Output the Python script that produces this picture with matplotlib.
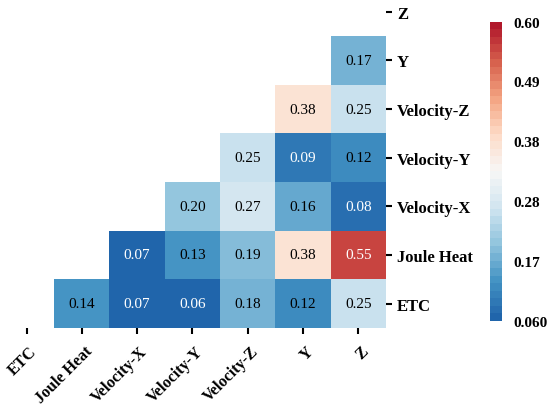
import numpy as np
import pandas as pd
import matplotlib
matplotlib.use("Agg")
import matplotlib.pyplot as plt
import matplotlib.transforms as mtransforms
from matplotlib.colors import LinearSegmentedColormap
import seaborn as sns

plt.rcParams['font.family'] = ['Liberation Serif', 'DejaVu Serif']

cols = ["ETC", "Joule Heat", "Velocity-X", "Velocity-Y", "Velocity-Z", "Y", "Z"]
rows = ["Z", "Y", "Velocity-Z", "Velocity-Y", "Velocity-X", "Joule Heat", "ETC"]

nan = np.nan
row_z = [nan, nan, nan, nan, nan, nan, nan]
row_y = [nan, nan, nan, nan, nan, nan, 0.17]
row_vz = [nan, nan, nan, nan, nan, 0.38, 0.25]
row_vy = [nan, nan, nan, nan, 0.25, 0.09, 0.12]
row_vx = [nan, nan, nan, 0.20, 0.27, 0.16, 0.08]
row_jh = [nan, nan, 0.07, 0.13, 0.19, 0.38, 0.55]
row_etc = [nan, 0.14, 0.07, 0.06, 0.18, 0.12, 0.25]

cbar_ticks = [0.06, 0.168, 0.276, 0.384, 0.492, 0.60]
cbar_labels = ["0.060", "0.17", "0.28", "0.38", "0.49", "0.60"]

df = pd.DataFrame([row_z, row_y, row_vz, row_vy, row_vx, row_jh, row_etc],
                  index=rows, columns=cols)
mask = df.isna()

# 9-class RdBu (without the darkest ends), stepped
base = sns.color_palette("RdBu_r", 9)
cmap = LinearSegmentedColormap.from_list("rdbu9", base, N=40)

fig = plt.figure(figsize=(5.5, 4.06), dpi=100)
ax = fig.add_axes([-0.002, 0.1897, 0.7036, 0.839])
cax = fig.add_axes([0.891, 0.2076, 0.0218, 0.7365])

sns.heatmap(df, mask=mask, cmap=cmap, vmin=0.06, vmax=0.60,
            annot=True, fmt=".2f", annot_kws={"fontsize": 11},
            ax=ax, cbar_ax=cax)

# text colour of the cell values
for t in ax.texts:
    v = float(t.get_text())
    t.set_color('white' if (v < 0.10 or v > 0.5) else 'black')

ax.yaxis.tick_right()
ax.tick_params(axis='both', length=4.5, width=1.5, color='black')
ax.tick_params(axis='x', pad=9)
plt.setp(ax.get_yticklabels(), rotation=0, fontsize=12, fontweight='bold')
offset = mtransforms.ScaledTranslation(8 / 100, -2 / 100, fig.dpi_scale_trans)
for lab in ax.get_xticklabels():
    lab.set_rotation(45)
    lab.set_ha('right')
    lab.set_va('center')
    lab.set_rotation_mode('anchor')
    lab.set_fontsize(11.5)
    lab.set_fontweight('bold')
    lab.set_transform(lab.get_transform() + offset)

cbar = ax.collections[0].colorbar
cbar.outline.set_visible(False)
cbar.set_ticks(cbar_ticks)
cbar.set_ticklabels(cbar_labels)
cax.tick_params(length=0, pad=8)
plt.setp(cax.get_yticklabels(), fontsize=11, fontweight='bold')

fig.savefig("out.png", dpi=100)
